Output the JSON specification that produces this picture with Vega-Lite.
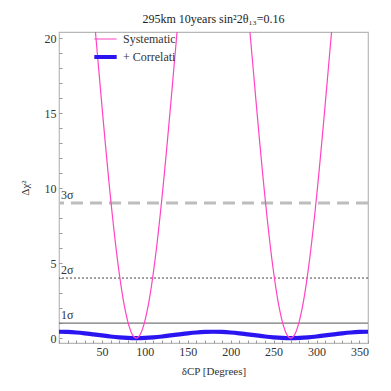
{
  "$schema": "https://vega.github.io/schema/vega-lite/v6.json",
  "width": 309,
  "height": 311,
  "autosize": {"type": "none"},
  "padding": {"left": 59, "top": 32, "right": 23, "bottom": 48},
  "background": "white",
  "config": {
    "font": "Liberation Serif",
    "view": {"stroke": "#b8b8b8", "strokeWidth": 1.2},
    "axis": {
      "grid": false,
      "domain": false,
      "tickColor": "#999",
      "labelFont": "Liberation Serif",
      "labelFontSize": 12,
      "labelColor": "#333",
      "titleFont": "Liberation Serif",
      "titleFontWeight": "normal",
      "titleColor": "#333"
    }
  },
  "title": {
    "text": "295km 10years sin²2θ₁₃=0.16",
    "font": "Liberation Serif",
    "fontSize": 12,
    "fontWeight": "normal",
    "color": "#222",
    "offset": 5
  },
  "encoding": {
    "y": {
      "field": "v", "type": "quantitative",
      "scale": {"domain": [-0.33, 20.4], "nice": false, "zero": false},
      "axis": {
        "title": "Δχ²",
        "titleFontSize": 11,
        "titlePadding": 14,
        "values": [0,1,2,3,4,5,6,7,8,9,10,11,12,13,14,15,16,17,18,19,20],
        "tickCount": 100,
        "format": "d",
        "labelExpr": "datum.value % 5 === 0 ? datum.label : ''",
        "tickSize": -3,
        "labelPadding": 6,
        "labelOverlap": false
      }
    }
  },
  "layer": [
    {
      "data": {"values": [{"v": 9}]},
      "mark": {"type": "rule", "color": "#bdbdbd", "strokeWidth": 3, "strokeDash": [12, 7]}
    },
    {
      "data": {"values": [{"v": 4}]},
      "mark": {"type": "rule", "color": "#444", "strokeWidth": 1, "strokeDash": [2, 2]}
    },
    {
      "data": {"values": [{"v": 1}]},
      "mark": {"type": "rule", "color": "#777", "strokeWidth": 1.2}
    },
    {
      "data": {"values": [
        {"d": 0, "v": 0.42, "s": "+ Correlati"},
        {"d": 10, "v": 0.407, "s": "+ Correlati"},
        {"d": 20, "v": 0.371, "s": "+ Correlati"},
        {"d": 30, "v": 0.315, "s": "+ Correlati"},
        {"d": 40, "v": 0.246, "s": "+ Correlati"},
        {"d": 50, "v": 0.174, "s": "+ Correlati"},
        {"d": 60, "v": 0.105, "s": "+ Correlati"},
        {"d": 70, "v": 0.049, "s": "+ Correlati"},
        {"d": 80, "v": 0.013, "s": "+ Correlati"},
        {"d": 90, "v": 0.0, "s": "+ Correlati"},
        {"d": 100, "v": 0.013, "s": "+ Correlati"},
        {"d": 110, "v": 0.049, "s": "+ Correlati"},
        {"d": 120, "v": 0.105, "s": "+ Correlati"},
        {"d": 130, "v": 0.174, "s": "+ Correlati"},
        {"d": 140, "v": 0.246, "s": "+ Correlati"},
        {"d": 150, "v": 0.315, "s": "+ Correlati"},
        {"d": 160, "v": 0.371, "s": "+ Correlati"},
        {"d": 170, "v": 0.407, "s": "+ Correlati"},
        {"d": 180, "v": 0.42, "s": "+ Correlati"},
        {"d": 190, "v": 0.407, "s": "+ Correlati"},
        {"d": 200, "v": 0.371, "s": "+ Correlati"},
        {"d": 210, "v": 0.315, "s": "+ Correlati"},
        {"d": 220, "v": 0.246, "s": "+ Correlati"},
        {"d": 230, "v": 0.174, "s": "+ Correlati"},
        {"d": 240, "v": 0.105, "s": "+ Correlati"},
        {"d": 250, "v": 0.049, "s": "+ Correlati"},
        {"d": 260, "v": 0.013, "s": "+ Correlati"},
        {"d": 270, "v": 0.0, "s": "+ Correlati"},
        {"d": 280, "v": 0.013, "s": "+ Correlati"},
        {"d": 290, "v": 0.049, "s": "+ Correlati"},
        {"d": 300, "v": 0.105, "s": "+ Correlati"},
        {"d": 310, "v": 0.174, "s": "+ Correlati"},
        {"d": 320, "v": 0.246, "s": "+ Correlati"},
        {"d": 330, "v": 0.315, "s": "+ Correlati"},
        {"d": 340, "v": 0.371, "s": "+ Correlati"},
        {"d": 350, "v": 0.407, "s": "+ Correlati"},
        {"d": 360, "v": 0.42, "s": "+ Correlati"},

        {"d": 40, "v": 22.01, "s": "Systematic"},
        {"d": 42, "v": 20.71, "s": "Systematic"},
        {"d": 44, "v": 19.40, "s": "Systematic"},
        {"d": 46, "v": 18.10, "s": "Systematic"},
        {"d": 48, "v": 16.79, "s": "Systematic"},
        {"d": 50, "v": 15.49, "s": "Systematic"},
        {"d": 52, "v": 14.21, "s": "Systematic"},
        {"d": 54, "v": 12.96, "s": "Systematic"},
        {"d": 56, "v": 11.73, "s": "Systematic"},
        {"d": 58, "v": 10.53, "s": "Systematic"},
        {"d": 60, "v": 9.38, "s": "Systematic"},
        {"d": 62, "v": 8.27, "s": "Systematic"},
        {"d": 64, "v": 7.21, "s": "Systematic"},
        {"d": 66, "v": 6.20, "s": "Systematic"},
        {"d": 68, "v": 5.26, "s": "Systematic"},
        {"d": 70, "v": 4.39, "s": "Systematic"},
        {"d": 72, "v": 3.58, "s": "Systematic"},
        {"d": 74, "v": 2.85, "s": "Systematic"},
        {"d": 76, "v": 2.19, "s": "Systematic"},
        {"d": 78, "v": 1.62, "s": "Systematic"},
        {"d": 80, "v": 1.13, "s": "Systematic"},
        {"d": 82, "v": 0.73, "s": "Systematic"},
        {"d": 84, "v": 0.41, "s": "Systematic"},
        {"d": 86, "v": 0.18, "s": "Systematic"},
        {"d": 88, "v": 0.05, "s": "Systematic"},
        {"d": 90, "v": 0.0, "s": "Systematic"},
        {"d": 92, "v": 0.05, "s": "Systematic"},
        {"d": 94, "v": 0.18, "s": "Systematic"},
        {"d": 96, "v": 0.41, "s": "Systematic"},
        {"d": 98, "v": 0.73, "s": "Systematic"},
        {"d": 100, "v": 1.13, "s": "Systematic"},
        {"d": 102, "v": 1.62, "s": "Systematic"},
        {"d": 104, "v": 2.19, "s": "Systematic"},
        {"d": 106, "v": 2.85, "s": "Systematic"},
        {"d": 108, "v": 3.58, "s": "Systematic"},
        {"d": 110, "v": 4.39, "s": "Systematic"},
        {"d": 112, "v": 5.26, "s": "Systematic"},
        {"d": 114, "v": 6.20, "s": "Systematic"},
        {"d": 116, "v": 7.21, "s": "Systematic"},
        {"d": 118, "v": 8.27, "s": "Systematic"},
        {"d": 120, "v": 9.38, "s": "Systematic"},
        {"d": 122, "v": 10.53, "s": "Systematic"},
        {"d": 124, "v": 11.73, "s": "Systematic"},
        {"d": 126, "v": 12.96, "s": "Systematic"},
        {"d": 128, "v": 14.21, "s": "Systematic"},
        {"d": 130, "v": 15.49, "s": "Systematic"},
        {"d": 132, "v": 16.79, "s": "Systematic"},
        {"d": 134, "v": 18.10, "s": "Systematic"},
        {"d": 136, "v": 19.40, "s": "Systematic"},
        {"d": 138, "v": 20.71, "s": "Systematic"},
        {"d": 140, "v": 22.01, "s": "Systematic"},

        {"d": 220, "v": 22.01, "s": "Systematic2"},
        {"d": 222, "v": 20.71, "s": "Systematic2"},
        {"d": 224, "v": 19.40, "s": "Systematic2"},
        {"d": 226, "v": 18.10, "s": "Systematic2"},
        {"d": 228, "v": 16.79, "s": "Systematic2"},
        {"d": 230, "v": 15.49, "s": "Systematic2"},
        {"d": 232, "v": 14.21, "s": "Systematic2"},
        {"d": 234, "v": 12.96, "s": "Systematic2"},
        {"d": 236, "v": 11.73, "s": "Systematic2"},
        {"d": 238, "v": 10.53, "s": "Systematic2"},
        {"d": 240, "v": 9.38, "s": "Systematic2"},
        {"d": 242, "v": 8.27, "s": "Systematic2"},
        {"d": 244, "v": 7.21, "s": "Systematic2"},
        {"d": 246, "v": 6.20, "s": "Systematic2"},
        {"d": 248, "v": 5.26, "s": "Systematic2"},
        {"d": 250, "v": 4.39, "s": "Systematic2"},
        {"d": 252, "v": 3.58, "s": "Systematic2"},
        {"d": 254, "v": 2.85, "s": "Systematic2"},
        {"d": 256, "v": 2.19, "s": "Systematic2"},
        {"d": 258, "v": 1.62, "s": "Systematic2"},
        {"d": 260, "v": 1.13, "s": "Systematic2"},
        {"d": 262, "v": 0.73, "s": "Systematic2"},
        {"d": 264, "v": 0.41, "s": "Systematic2"},
        {"d": 266, "v": 0.18, "s": "Systematic2"},
        {"d": 268, "v": 0.05, "s": "Systematic2"},
        {"d": 270, "v": 0.0, "s": "Systematic2"},
        {"d": 272, "v": 0.05, "s": "Systematic2"},
        {"d": 274, "v": 0.18, "s": "Systematic2"},
        {"d": 276, "v": 0.41, "s": "Systematic2"},
        {"d": 278, "v": 0.73, "s": "Systematic2"},
        {"d": 280, "v": 1.13, "s": "Systematic2"},
        {"d": 282, "v": 1.62, "s": "Systematic2"},
        {"d": 284, "v": 2.19, "s": "Systematic2"},
        {"d": 286, "v": 2.85, "s": "Systematic2"},
        {"d": 288, "v": 3.58, "s": "Systematic2"},
        {"d": 290, "v": 4.39, "s": "Systematic2"},
        {"d": 292, "v": 5.26, "s": "Systematic2"},
        {"d": 294, "v": 6.20, "s": "Systematic2"},
        {"d": 296, "v": 7.21, "s": "Systematic2"},
        {"d": 298, "v": 8.27, "s": "Systematic2"},
        {"d": 300, "v": 9.38, "s": "Systematic2"},
        {"d": 302, "v": 10.53, "s": "Systematic2"},
        {"d": 304, "v": 11.73, "s": "Systematic2"},
        {"d": 306, "v": 12.96, "s": "Systematic2"},
        {"d": 308, "v": 14.21, "s": "Systematic2"},
        {"d": 310, "v": 15.49, "s": "Systematic2"},
        {"d": 312, "v": 16.79, "s": "Systematic2"},
        {"d": 314, "v": 18.10, "s": "Systematic2"},
        {"d": 316, "v": 19.40, "s": "Systematic2"},
        {"d": 318, "v": 20.71, "s": "Systematic2"},
        {"d": 320, "v": 22.01, "s": "Systematic2"}
      ]},
      "transform": [
        {"calculate": "datum.s === 'Systematic2' ? 'Systematic' : datum.s", "as": "series"}
      ],
      "mark": {"type": "line", "clip": true, "interpolate": "monotone"},
      "encoding": {
        "x": {
          "field": "d", "type": "quantitative",
          "scale": {"domain": [0, 360], "nice": false, "zero": false},
          "axis": {
            "title": "δCP [Degrees]",
            "titleFontSize": 11,
            "titlePadding": 8,
            "values": [0,10,20,30,40,50,60,70,80,90,100,110,120,130,140,150,160,170,180,190,200,210,220,230,240,250,260,270,280,290,300,310,320,330,340,350,360],
            "tickCount": 100,
            "format": "d",
            "labelExpr": "datum.value % 50 === 0 && datum.value > 0 ? datum.label : ''",
            "tickSize": -3,
            "labelPadding": 6,
            "labelFlush": false,
            "labelOverlap": false
          }
        },
        "detail": {"field": "s"},
        "color": {
          "field": "series", "type": "nominal",
          "scale": {"domain": ["Systematic", "+ Correlati"], "range": ["#ff44c4", "#2a14f0"]},
          "legend": {
            "title": null,
            "orient": "none",
            "legendX": 33,
            "legendY": -1,
            "symbolType": "stroke",
            "symbolSize": 500,
            "labelFont": "Liberation Serif",
            "labelFontSize": 12,
            "labelColor": "#333",
            "clipHeight": 16,
            "rowPadding": 2
          }
        },
        "strokeWidth": {
          "field": "series", "type": "nominal",
          "scale": {"domain": ["Systematic", "+ Correlati"], "range": [1.2, 4.2]},
          "legend": {
            "title": null,
            "orient": "none",
            "legendX": 33,
            "legendY": -1,
            "symbolType": "stroke",
            "symbolSize": 500,
            "labelFont": "Liberation Serif",
            "labelFontSize": 12,
            "labelColor": "#333",
            "clipHeight": 16,
            "rowPadding": 2
          }
        }
      }
    },
    {
      "data": {"values": [{"d": 0, "v": 9, "label": "3σ"}, {"d": 0, "v": 4, "label": "2σ"}, {"d": 0, "v": 1, "label": "1σ"}]},
      "mark": {"type": "text", "align": "left", "baseline": "bottom", "dx": 2, "dy": -1, "fontSize": 12, "color": "#333", "font": "Liberation Serif"},
      "encoding": {
        "x": {"field": "d", "type": "quantitative"},
        "text": {"field": "label"}
      }
    }
  ]
}
